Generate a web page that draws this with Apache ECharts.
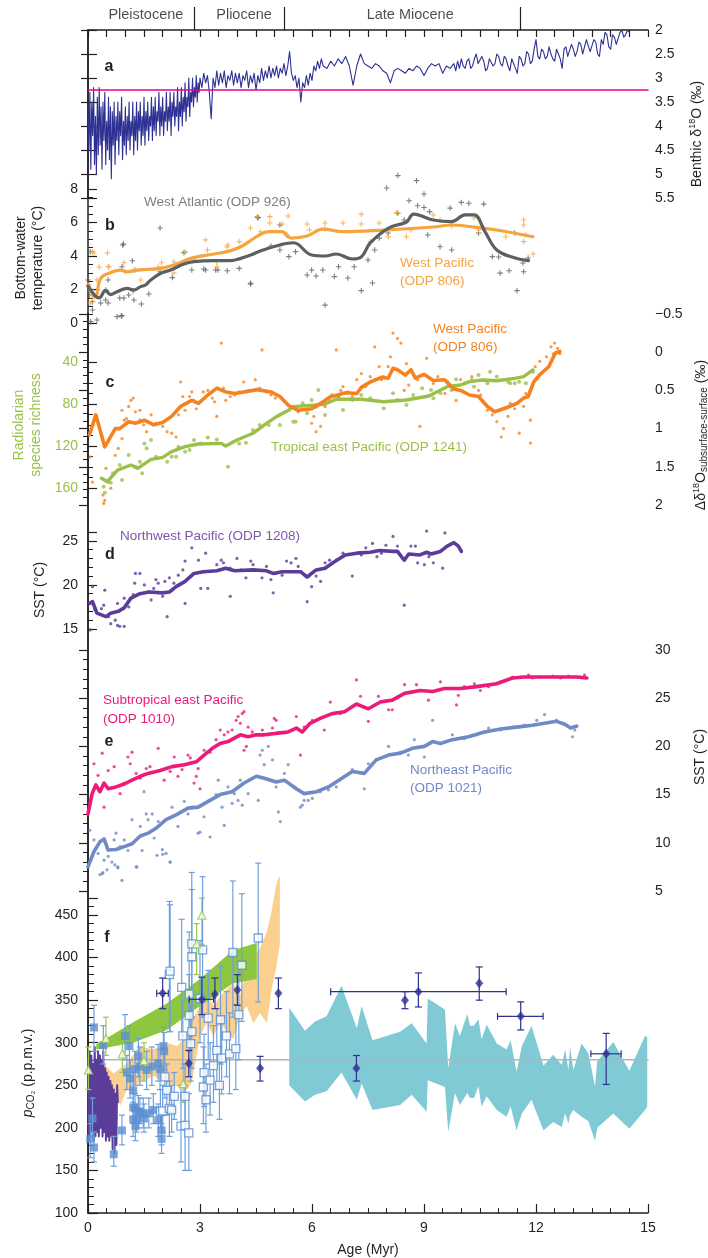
<!DOCTYPE html>
<html><head><meta charset="utf-8">
<script src="https://cdn.jsdelivr.net/npm/echarts@6.0.0/dist/echarts.min.js"></script>
<style>html,body{margin:0;padding:0;background:#fff}#c{width:708px;height:1258px}</style>
</head><body><div id="c"></div>
<script>
// ---------------- DATA ----------------
const EPOCH_NAMES = ['Pleistocene', 'Pliocene', 'Late Miocene'];
const EPOCH_LABEL_AGE = [1.55, 4.18, 8.63];
const EPOCH_BOUNDS = [2.84, 5.26, 11.57];

// panel a: benthic d18O (age Myr, permil)
const D18O = [[0.000,3.6],[0.025,4.5],[0.050,3.3],[0.075,4.9],[0.100,3.5],[0.125,4.2],[0.150,3.2],[0.175,4.8],[0.200,3.8],[0.225,5.0],[0.250,3.4],[0.275,4.6],[0.300,3.2],[0.325,4.4],[0.350,3.6],[0.375,4.9],[0.400,3.5],[0.425,4.3],[0.450,3.3],[0.475,4.8],[0.500,3.9],[0.525,4.5],[0.550,3.4],[0.575,4.7],[0.600,3.6],[0.625,5.1],[0.650,3.7],[0.675,4.4],[0.700,3.5],[0.725,4.8],[0.750,3.8],[0.775,4.3],[0.800,3.5],[0.825,4.6],[0.850,3.7],[0.875,4.2],[0.900,3.4],[0.925,4.7],[0.950,3.9],[0.975,4.4],[1.000,3.6],[1.025,4.6],[1.050,3.8],[1.075,4.3],[1.100,3.5],[1.125,4.5],[1.150,3.9],[1.175,4.2],[1.200,3.5],[1.225,4.6],[1.250,3.8],[1.275,4.3],[1.300,3.5],[1.325,4.5],[1.350,3.7],[1.375,4.1],[1.400,3.5],[1.425,4.4],[1.450,3.8],[1.475,4.2],[1.500,3.4],[1.525,4.4],[1.550,3.7],[1.575,4.1],[1.600,3.5],[1.625,4.3],[1.650,3.8],[1.675,4.0],[1.700,3.4],[1.725,4.3],[1.750,3.6],[1.775,4.1],[1.800,3.4],[1.825,4.2],[1.850,3.7],[1.875,3.9],[1.900,3.3],[1.925,4.2],[1.950,3.6],[1.975,4.0],[2.000,3.4],[2.025,4.2],[2.050,3.7],[2.075,3.9],[2.100,3.3],[2.125,4.1],[2.150,3.6],[2.175,3.9],[2.200,3.3],[2.225,4.2],[2.250,3.5],[2.275,3.8],[2.300,3.3],[2.325,4.0],[2.350,3.6],[2.375,3.8],[2.400,3.2],[2.425,4.1],[2.450,3.5],[2.475,3.8],[2.500,3.2],[2.525,4.0],[2.550,3.4],[2.575,3.7],[2.600,3.1],[2.625,3.9],[2.650,3.4],[2.675,3.6],[2.700,3.0],[2.725,3.8],[2.750,3.3],[2.775,3.5],[2.800,3.0],[2.825,3.6],[2.850,3.2],[2.875,3.4],[2.900,2.95],[2.925,3.5],[2.950,3.1],[2.975,3.3],[3.000,3.0],
[3.05,3.2],[3.10,2.9],[3.15,3.1],[3.20,2.95],[3.25,3.3],[3.30,3.85],[3.35,3.0],[3.40,3.2],[3.45,2.85],[3.50,3.15],[3.55,2.9],[3.60,3.1],[3.65,2.85],[3.70,3.2],[3.75,2.95],[3.80,3.05],[3.85,2.85],[3.90,3.15],[3.95,2.9],[4.00,3.1],[4.05,2.9],[4.10,3.2],[4.15,2.95],[4.20,3.05],[4.25,2.85],[4.30,3.2],[4.35,2.95],[4.40,3.1],[4.45,2.9],[4.50,3.25],[4.55,2.95],[4.60,3.1],[4.65,2.8],[4.70,3.05],[4.75,2.85],[4.80,3.0],[4.85,2.75],[4.90,3.0],[4.95,2.8],[5.00,2.95],[5.05,2.75],[5.10,3.0],[5.15,2.8],[5.20,2.9],[5.25,2.7],[5.30,2.95],[5.35,2.75],[5.40,2.45],[5.45,2.9],[5.50,3.05],[5.55,2.95],[5.60,3.2],[5.65,3.0],[5.70,3.5],[5.75,3.1],[5.80,3.2],[5.85,2.95],[5.90,3.15],[5.95,2.9],[6.00,3.05],[6.05,2.75],[6.10,2.85],[6.15,2.65],[6.20,2.8],[6.25,2.6],[6.30,2.75],
[6.4,2.8],[6.5,2.65],[6.6,2.75],[6.7,2.6],[6.8,2.7],[6.9,2.55],[7.0,2.75],[7.1,3.15],[7.2,2.75],[7.3,2.5],[7.4,2.7],[7.5,2.75],[7.6,2.8],[7.7,2.7],[7.8,2.75],[7.9,2.85],[8.0,2.9],[8.1,3.1],[8.2,2.85],[8.3,2.8],[8.4,2.85],[8.5,2.9],[8.6,2.8],[8.7,2.85],[8.8,2.75],[8.9,2.8],[9.0,2.95],[9.1,2.8],[9.2,2.7],[9.3,2.75],[9.4,2.7],[9.5,2.9],[9.6,2.75],[9.7,2.8],[9.8,2.7],
[9.85,2.85],[9.9,2.65],[9.95,2.8],[10.0,2.6],[10.05,2.75],[10.1,2.8],[10.15,2.65],[10.2,2.6],[10.25,2.8],[10.3,2.75],[10.35,2.6],[10.4,2.5],[10.45,2.7],[10.5,2.7],[10.55,2.55],[10.6,2.65],[10.65,2.85],[10.7,2.8],[10.75,2.6],[10.8,2.6],[10.85,2.75],[10.9,2.7],[10.95,2.5],[11.0,2.55],[11.05,2.7],[11.1,2.75],[11.15,2.55],[11.2,2.6],[11.25,2.75],[11.3,2.85],[11.35,2.6],[11.4,2.6],[11.45,2.8],[11.5,2.9],[11.55,2.55],[11.6,2.6],[11.65,2.75],[11.7,2.7],[11.75,2.45],[11.8,2.5],[11.85,2.7],[11.9,2.65],[11.95,2.4],[12.0,2.2],[12.05,2.55],[12.1,2.6],[12.15,2.4],[12.2,2.45],[12.25,2.6],[12.3,2.55],[12.35,2.35],[12.4,2.5],[12.45,2.6],[12.5,2.65],[12.55,2.4],[12.6,2.4],[12.65,2.6],[12.7,2.8],[12.75,2.4],[12.8,2.35],[12.85,2.55],[12.9,2.55],[12.95,2.3],[13.0,2.4],[13.05,2.55],[13.1,2.45],[13.15,2.25],[13.2,2.3],[13.25,2.5],[13.3,2.5],[13.35,2.2],[13.4,2.2],[13.45,2.45],[13.5,2.45],[13.55,2.2],[13.6,2.25],[13.65,2.5],[13.7,2.55],[13.75,2.2],[13.8,2.3],[13.85,2.05],[13.9,2.1],[13.95,2.35],[14.0,2.4],[14.05,2.1],[14.1,2.15],[14.15,2.3],[14.2,2.3],[14.25,2.05],[14.3,2.0],[14.35,2.15],[14.4,2.1],[14.45,2.0],[14.5,2.05]];
const D18O_REF = 3.25;

// panel b: bottom-water temperature
const ATL926_PTS = [[8.3,8.8],[8.8,8.5],[8.0,8.06],[9.0,7.7],[10.0,7.2],[9.0,6.9],[8.6,7.3],[8.83,7.0],[10.2,7.15],[10.6,7.1],[9.7,6.86],[9.15,6.65],[8.3,6.55],[1.93,5.67],[4.56,6.29],[5.14,5.85],[5.32,5.25],[0.93,4.66],[0.06,4.26],[1.19,3.72],[0.91,3.36],[0.54,2.57],[0.85,1.49],[1.09,1.67],[1.21,1.93],[1.43,1.13],[1.93,3.06],[2.78,3.16],[3.15,3.16],[3.48,3.16],[4.35,2.37],[4.9,4.6],[5.14,4.36],[5.38,3.96],[5.56,4.26],[5.87,2.87],[5.99,3.16],[6.11,2.81],[6.29,3.16],[6.35,1.07],[6.6,2.77],[6.71,3.36],[6.96,2.69],[7.13,3.36],[7.32,1.93],[7.62,2.39],[7.5,3.76],[7.68,4.36],[7.8,5.07],[8.04,5.37],[8.47,6.15],[9.1,5.25],[9.43,4.55],[9.74,4.36],[10.46,5.37],[10.83,3.96],[11.0,3.94],[11.04,2.98],[11.28,3.12],[11.49,1.93],[11.67,3.06],[11.43,5.37],[11.65,3.58],[11.79,3.88],[0.12,0.78],[0.24,0.18],[0.78,0.38],[0.91,0.44],[0.12,1.27],[0.04,1.67],[0.54,1.19],[0.48,1.97],[0.0,2.57],[0.25,1.97],[0.34,1.19],[0.07,0.08],[0.89,0.42],[0.47,1.37],[0.96,1.49],[1.23,1.37],[1.63,1.73],[0.95,4.72],[2.26,2.71],[2.57,4.2],[3.1,3.22],[3.42,3.16],[3.73,3.12],[4.05,3.26],[4.36,2.33],[4.54,6.31]];
const ATL926_FIT = [[0,2.2],[0.2,1.6],[0.3,1.5],[0.47,1.95],[0.6,1.7],[0.78,1.87],[1.05,2.07],[1.23,1.97],[1.41,2.17],[1.54,2.27],[1.68,2.57],[1.95,2.97],[2.21,3.16],[2.57,3.52],[2.84,3.66],[3.38,3.72],[3.82,3.72],[4.09,3.86],[4.36,4.06],[4.63,4.32],[5.14,4.66],[5.5,4.79],[5.99,4.06],[6.35,4.0],[6.65,4.12],[7.08,3.82],[7.32,3.94],[7.56,4.78],[8.05,5.67],[8.53,6.03],[8.72,6.5],[9.25,6.15],[9.74,6.05],[10.1,6.45],[10.34,6.45],[10.64,5.43],[10.95,4.36],[11.44,3.88],[11.8,3.72]];
const PAC806_PTS = [[0.52,4.18],[0.12,4.26],[0.24,2.57],[0.12,1.49],[0.06,1.19],[0.54,3.36],[1.27,3.16],[1.88,3.34],[2.3,2.98],[2.6,4.26],[3.15,4.96],[3.2,4.36],[3.75,4.66],[4.05,4.86],[4.35,5.67],[4.53,6.35],[4.87,6.35],[4.87,5.97],[5.36,6.39],[5.2,5.91],[5.87,5.91],[5.93,5.55],[6.35,5.97],[6.35,5.61],[6.83,5.97],[7.32,6.5],[7.32,5.91],[7.56,4.86],[7.8,5.97],[8.26,6.59],[8.04,5.15],[8.53,5.15],[8.65,5.55],[9.25,6.45],[9.43,6.15],[9.74,5.79],[10.34,6.27],[10.46,5.55],[11.19,5.15],[11.67,6.15],[11.67,5.85],[11.73,5.25],[11.92,4.12],[11.67,4.86],[0.16,4.18],[0.3,3.34],[0.56,3.36],[0.96,3.6],[1.0,3.06],[1.23,3.16],[1.41,2.57],[1.97,3.6],[1.95,3.22],[0.03,2.27],[0.07,1.97],[0.16,1.57],[2.3,3.66],[2.84,3.76],[3.45,3.66],[3.45,3.36],[3.72,4.54],[4.62,5.45]];
const PAC806_FIT = [[0,2.3],[0.2,1.6],[0.34,2.67],[0.6,3.0],[0.87,3.16],[1.05,3.06],[1.32,3.16],[1.59,3.2],[1.95,3.26],[2.3,3.46],[2.75,3.86],[3.2,4.06],[3.73,4.26],[4.09,4.55],[4.45,5.06],[4.71,5.39],[4.9,5.45],[5.2,5.45],[5.44,5.07],[5.87,5.19],[6.29,5.61],[6.83,5.45],[7.92,5.55],[9.25,5.73],[9.74,5.85],[10.34,5.73],[10.95,5.55],[11.92,5.15]];

// panel c: subsurface-surface d18O (ODP 806) and radiolarian richness (ODP 1241)
const DD18O_PTS = [[0.06,1.37],[0.12,1.70],[0.42,1.98],[0.45,1.94],[0.40,1.87],[0.55,1.70],[0.61,1.78],[0.48,1.52],[0.73,1.35],[0.81,1.26],[0.91,1.13],[0.97,0.89],[0.91,0.76],[1.03,0.87],[1.09,0.71],[1.15,0.63],[1.21,0.60],[1.27,0.78],[1.39,0.76],[1.39,0.89],[1.49,0.95],[1.57,1.04],[1.69,0.82],[1.82,0.93],[2.00,0.97],[2.12,1.04],[2.24,1.06],[2.36,1.11],[2.48,0.39],[2.42,0.82],[2.54,0.58],[2.60,0.76],[2.72,0.58],[2.78,0.52],[2.84,0.63],[2.90,0.74],[3.09,0.52],[3.21,0.50],[3.33,0.60],[3.39,0.65],[3.57,-0.12],[3.45,0.84],[3.63,0.47],[3.69,0.63],[3.81,0.58],[3.93,0.56],[4.05,0.52],[4.17,0.39],[4.30,0.50],[4.48,0.36],[4.60,0.47],[4.66,-0.03],[4.78,0.52],[4.90,0.56],[5.02,0.60],[5.14,0.82],[5.38,0.76],[5.63,0.78],[5.87,0.76],[5.99,0.93],[6.05,0.84],[6.11,1.04],[6.23,0.97],[6.35,0.71],[6.47,0.63],[6.65,-0.03],[6.71,0.58],[6.77,0.50],[6.83,0.45],[6.96,0.52],[7.08,0.58],[7.20,0.36],[7.32,0.28],[7.44,0.45],[7.56,0.32],[7.68,-0.07],[7.80,0.19],[7.86,0.36],[7.92,0.32],[8.04,0.19],[8.10,0.06],[8.17,-0.25],[8.29,-0.18],[8.38,-0.12],[8.47,0.50],[8.53,0.15],[8.59,0.43],[8.71,0.28],[8.83,0.36],[8.89,0.97],[9.07,0.08],[9.25,0.41],[9.37,0.32],[9.56,0.54],[9.74,0.45],[9.86,0.63],[9.98,0.36],[10.10,0.41],[10.28,0.32],[10.46,0.50],[10.52,0.56],[10.70,0.76],[10.83,0.82],[10.95,0.91],[11.07,1.11],[11.13,1.00],[11.25,0.84],[11.31,0.67],[11.43,0.74],[11.55,1.06],[11.67,0.71],[11.73,0.54],[11.85,0.89],[11.85,1.19],[11.98,0.19],[12.10,0.12],[12.28,0.06],[12.40,-0.07],[12.50,-0.12],[12.58,-0.05],[12.64,0.02],[12.46,0.02]];
const DD18O_FIT = [[0.04,1.08],[0.21,0.82],[0.45,1.24],[0.73,1.0],[0.85,1.0],[1.09,0.91],[1.27,0.93],[1.51,0.89],[1.76,0.95],[2.0,0.92],[2.24,0.84],[2.48,0.71],[2.78,0.63],[2.96,0.67],[3.21,0.56],[3.45,0.47],[3.69,0.52],[3.93,0.54],[4.17,0.52],[4.54,0.49],[4.9,0.52],[5.14,0.58],[5.38,0.7],[5.63,0.76],[5.99,0.74],[6.23,0.67],[6.47,0.59],[6.9,0.53],[7.2,0.54],[7.32,0.46],[7.56,0.39],[7.86,0.33],[8.04,0.34],[8.17,0.21],[8.29,0.23],[8.5,0.3],[8.65,0.23],[8.77,0.34],[9.0,0.29],[9.25,0.37],[9.55,0.36],[9.8,0.48],[9.98,0.5],[10.22,0.56],[10.46,0.58],[10.7,0.71],[10.89,0.78],[11.19,0.73],[11.49,0.67],[11.67,0.6],[11.79,0.58],[11.94,0.39],[12.09,0.3],[12.34,0.19],[12.52,0.01],[12.64,-0.01]];
const RAD1241_PTS = [[0.42,158.7],[0.45,164.5],[0.61,154.9],[0.67,146.0],[0.85,138.1],[0.91,152.4],[1.09,128.6],[1.27,139.7],[1.39,134.9],[1.45,146.0],[1.51,117.5],[1.57,122.2],[1.69,114.3],[1.82,130.2],[2.12,134.9],[2.24,130.2],[2.36,130.2],[2.42,120.6],[2.60,125.4],[2.72,123.8],[2.84,114.3],[3.02,117.5],[3.21,111.8],[3.45,113.7],[3.75,139.7],[4.05,117.5],[4.23,116.8],[4.42,104.8],[4.60,100.0],[4.84,100.0],[5.14,100.0],[5.50,96.8],[5.56,96.8],[5.75,79.4],[5.87,88.9],[5.99,76.2],[6.11,82.5],[6.17,66.7],[6.35,90.5],[6.53,71.4],[6.71,73.0],[6.83,85.7],[7.08,76.2],[7.32,71.4],[7.56,74.6],[7.92,84.1],[8.17,69.8],[8.29,76.2],[8.53,80.9],[8.71,71.4],[8.95,65.1],[9.25,74.6],[9.44,69.8],[9.62,58.7],[9.86,56.5],[10.10,60.3],[10.28,57.1],[10.46,52.4],[10.77,49.2],[10.95,54.0],[11.25,58.7],[11.31,60.3],[11.43,60.3],[11.55,58.7],[11.73,60.3],[11.92,49.2],[9.74,66.7],[10.34,63.5],[10.70,60.3],[9.19,66.7]];
const RAD1241_FIT = [[0.36,150.8],[0.52,154.0],[0.79,142.9],[1.15,138.1],[1.33,141.3],[1.69,132.7],[2.0,130.8],[2.24,125.4],[2.6,120.6],[2.96,118.1],[3.57,117.5],[3.69,120.0],[3.99,114.3],[4.42,107.9],[4.78,98.4],[5.02,92.7],[5.38,85.7],[5.5,82.5],[6.11,80.9],[6.35,80.0],[6.65,75.5],[7.32,75.5],[7.92,77.8],[8.53,76.2],[9.13,72.4],[9.62,63.5],[9.98,61.9],[10.22,58.7],[10.58,57.1],[10.95,57.8],[11.43,55.6],[11.67,54.0],[11.92,47.6]];

// panel d: SST ODP 1208
const SST1208_PTS = [[0.06,14.9],[0.12,19.8],[0.18,17.2],[0.36,17.3],[0.42,17.7],[0.45,19.4],[0.55,16.4],[0.61,15.6],[0.73,16.0],[0.79,15.4],[0.85,15.3],[0.97,15.3],[0.79,17.9],[0.97,18.5],[1.09,17.5],[1.21,18.9],[1.25,20.2],[1.27,21.3],[1.39,21.3],[1.51,20.0],[1.63,19.2],[1.69,18.3],[1.76,19.6],[1.82,20.6],[1.88,20.2],[2.00,18.7],[2.06,20.4],[2.18,20.8],[2.12,16.4],[2.24,19.4],[2.30,20.2],[2.42,21.1],[2.54,21.7],[2.60,22.7],[2.60,17.9],[2.78,24.2],[2.96,22.8],[3.02,19.6],[3.15,23.6],[3.21,19.6],[3.45,22.3],[3.57,22.8],[3.63,22.5],[3.81,21.9],[3.81,18.7],[3.99,23.0],[4.11,21.7],[4.23,20.8],[4.36,22.7],[4.42,22.3],[4.66,20.8],[4.78,22.1],[4.90,20.6],[4.96,19.1],[5.02,21.3],[5.20,21.1],[5.32,22.7],[5.44,22.5],[5.57,23.0],[5.63,22.1],[5.87,18.1],[5.99,19.8],[6.11,21.0],[6.23,20.4],[6.35,22.5],[6.47,22.8],[6.65,22.8],[6.83,23.6],[7.08,21.0],[7.32,23.4],[7.44,24.2],[7.62,24.7],[7.74,23.2],[7.86,23.6],[7.98,24.5],[8.17,25.5],[8.29,24.4],[8.47,17.7],[8.65,24.4],[8.77,24.4],[8.83,22.5],[9.01,22.3],[9.07,26.1],[9.25,22.5],[9.50,21.9],[9.56,25.9],[9.13,23.2]];
const SST1208_FIT = [[0.04,17.9],[0.12,18.1],[0.24,16.8],[0.48,16.4],[0.61,16.8],[0.81,17.0],[0.97,17.4],[1.15,18.5],[1.39,19.0],[1.63,19.2],[2.0,19.1],[2.18,19.2],[2.36,19.8],[2.60,20.4],[2.84,21.3],[3.09,21.5],[3.45,21.6],[3.69,21.9],[3.93,21.6],[4.42,21.7],[4.78,21.6],[4.96,21.3],[5.20,21.5],[5.50,21.5],[5.69,21.5],[5.87,20.9],[6.11,21.7],[6.35,21.9],[6.59,22.6],[6.89,23.4],[7.20,23.6],[7.56,23.7],[7.80,23.9],[8.17,23.8],[8.29,23.8],[8.47,22.8],[8.59,23.5],[8.89,23.4],[9.07,23.7],[9.19,23.5],[9.44,23.8],[9.62,24.4],[9.80,24.8],[9.92,24.4],[10.00,23.8]];

// panel e: SST ODP 1010 and ODP 1021
const SST1010_PTS = [[0.16,18.2],[0.27,17.0],[0.38,19.3],[0.43,13.7],[0.54,17.5],[0.70,17.9],[0.86,15.1],[0.97,16.2],[1.07,18.9],[1.13,18.2],[1.18,19.4],[1.29,17.2],[1.40,16.7],[1.56,17.7],[1.66,17.9],[1.88,19.8],[2.04,16.5],[2.20,17.4],[2.31,18.9],[2.41,16.9],[2.52,17.6],[2.68,19.1],[2.74,18.8],[2.84,16.2],[2.90,16.9],[2.95,17.7],[3.00,15.6],[3.11,19.6],[3.27,19.4],[3.43,20.7],[3.54,21.7],[3.65,21.2],[3.75,21.5],[3.86,21.7],[3.97,22.7],[4.02,23.1],[4.08,22.4],[4.13,23.4],[4.18,23.6],[4.24,20.0],[4.18,19.6],[4.29,22.0],[4.40,21.5],[4.61,21.2],[4.67,21.7],[4.83,21.2],[4.94,21.9],[4.99,22.9],[5.04,22.7],[5.26,21.4],[5.58,23.1],[5.69,19.1],[5.79,22.0],[6.01,22.7],[6.33,21.7],[6.49,24.6],[6.76,23.4],[7.19,26.9],[7.30,25.2],[7.51,22.6],[7.78,25.2],[8.05,23.8],[8.15,23.8],[8.48,26.4],[8.80,26.4],[9.12,24.8],[9.44,26.7],[9.76,26.0],[9.87,24.3],[9.92,25.3],[10.08,26.2],[10.35,26.5],[10.73,26.2],[11.37,27.2],[11.80,27.4],[11.91,27.1],[12.12,27.2],[12.45,27.3],[12.87,27.3],[13.20,27.2],[10.51,25.8],[11.05,26.7],[11.59,27.2],[12.66,27.1],[13.30,27.4]];
const SST1010_FIT = [[0.0,13.0],[0.11,15.1],[0.21,16.0],[0.32,15.3],[0.43,16.2],[0.54,15.6],[0.75,15.8],[0.97,16.1],[1.18,16.5],[1.40,16.9],[1.61,17.2],[1.93,17.5],[2.25,17.9],[2.58,18.1],[2.90,18.4],[3.11,19.1],[3.33,19.8],[3.54,20.3],[3.75,20.5],[4.08,21.2],[4.29,21.0],[4.51,21.2],[4.72,21.2],[5.15,21.4],[5.36,21.5],[5.58,21.9],[5.74,21.5],[5.95,22.4],[6.22,22.9],[6.54,23.4],[6.87,23.6],[7.19,24.4],[7.51,23.9],[7.83,24.6],[8.15,24.8],[8.48,25.5],[8.90,25.8],[9.23,25.7],[9.55,26.0],[9.98,26.0],[10.41,26.2],[10.94,26.5],[11.37,27.1],[11.69,27.2],[12.12,27.2],[12.66,27.2],[13.09,27.2],[13.36,27.1]];
const SST1021_PTS = [[0.05,11.3],[0.16,10.3],[0.27,8.9],[0.38,6.8],[0.43,8.2],[0.54,8.6],[0.64,8.0],[0.70,10.3],[0.75,11.0],[0.80,7.5],[0.86,9.6],[0.97,10.3],[1.07,9.2],[1.18,12.4],[1.29,7.5],[1.40,11.7],[1.45,9.2],[1.50,15.3],[1.56,13.0],[1.61,12.4],[1.72,13.0],[1.77,10.5],[1.88,12.2],[1.99,9.3],[2.09,8.9],[2.20,8.0],[2.25,13.7],[2.41,11.7],[2.58,14.3],[2.68,13.0],[2.79,13.7],[2.95,11.0],[3.00,11.1],[3.11,12.7],[3.22,14.3],[3.27,10.6],[3.43,15.0],[3.49,16.5],[3.59,13.7],[3.65,11.8],[3.75,15.8],[3.86,14.1],[3.92,15.1],[4.02,14.4],[4.08,16.5],[4.13,13.9],[4.29,15.1],[4.56,14.4],[4.61,19.1],[4.67,19.6],[4.72,18.1],[4.83,20.0],[4.94,18.6],[5.04,15.8],[5.10,13.2],[5.15,12.2],[5.26,17.2],[5.36,18.1],[5.69,13.7],[5.74,13.9],[5.79,14.4],[5.90,14.4],[6.01,14.6],[6.22,15.3],[6.44,15.5],[6.65,15.8],[6.87,16.9],[7.08,17.6],[7.40,15.6],[7.51,18.2],[7.72,18.6],[8.05,20.0],[8.37,19.4],[8.58,19.1],[8.74,20.7],[9.01,18.9],[9.23,22.7],[9.44,20.3],[9.76,21.2],[10.08,20.8],[10.41,21.2],[10.73,21.9],[11.05,21.7],[11.37,22.0],[11.69,22.2],[12.02,22.7],[12.23,23.3],[12.55,22.7],[12.98,21.0],[13.04,21.7],[0.32,6.7],[0.40,6.9],[0.51,7.2],[0.72,7.7],[0.80,7.4],[0.91,6.1],[1.31,7.5],[2.0,8.8],[2.2,8.0],[1.85,8.7]];
const SST1021_FIT = [[0.0,7.5],[0.16,9.1],[0.32,10.1],[0.43,10.4],[0.54,9.25],[0.75,9.3],[0.97,9.6],[1.18,9.9],[1.40,10.7],[1.61,11.0],[1.82,11.5],[2.09,12.4],[2.36,12.9],[2.68,13.6],[2.95,13.7],[3.22,14.3],[3.54,15.0],[3.86,15.3],[4.18,16.2],[4.51,16.9],[4.72,16.7],[5.04,16.3],[5.26,16.5],[5.58,15.6],[5.79,15.1],[6.12,15.3],[6.44,15.8],[6.76,16.6],[7.08,17.4],[7.40,17.2],[7.72,18.6],[8.05,19.1],[8.37,19.3],[8.69,19.8],[9.01,20.0],[9.23,20.5],[9.44,20.3],[9.76,20.7],[10.19,21.0],[10.62,21.5],[11.05,21.8],[11.48,22.0],[11.91,22.2],[12.23,22.4],[12.55,22.6],[12.77,22.3],[12.93,21.9],[13.09,22.1]];

// panel f: pCO2 (ppmv). bands: [age, low, high]; points: [age, value, low, high(, xlow, xhigh)]
const CO2_PREINDUSTRIAL = 280;
const CO2_TEAL_BAND = [[5.39,250,341],[5.81,231,314],[6.08,239,325],[6.39,243,331],[6.79,265,367],[7.20,233,317],[7.33,252,343],[7.62,221,303],[8.36,227,313],[8.67,239,323],[9.07,219,299],[9.10,256,352],[9.56,248,339],[9.65,195,270],[9.83,241,323],[9.96,227,308],[10.16,241,334],[10.23,235,320],[10.34,235,320],[10.46,249,328],[10.54,225,304],[10.68,237,321],[10.95,221,299],[11.21,213,292],[11.32,225,303],[11.48,197,266],[11.62,217,296],[11.88,233,320],[12.20,197,273],[12.46,207,286],[12.69,201,274],[12.78,217,292],[12.87,205,268],[12.91,215,296],[13.00,221,268],[13.22,213,299],[13.40,208,288],[13.58,185,249],[13.64,200,278],[14.07,217,301],[14.50,199,267],[14.92,221,308],[14.98,225,307]];
const CO2_ORANGE_BAND = [[0.41,253,276],[0.68,245,264],[0.86,226,270],[1.04,245,276],[1.39,253,296],[1.75,261,292],[2.11,253,300],[2.38,249,296],[2.64,245,308],[2.78,253,325],[2.87,276,333],[3.0,308,343],[3.18,323,359],[3.36,308,343],[3.54,323,355],[3.89,304,370],[4.07,331,355],[4.25,343,386],[4.43,323,398],[4.61,335,412],[4.79,323,430],[4.92,363,455],[5.05,390,488],[5.14,417,496]];
const CO2_GREEN_BAND = [[0.22,292,298],[1.21,300,324],[2.11,315,346],[3.0,343,375],[3.89,370,409],[4.52,375,417]];
const CO2_ICE = [[0,280],[0.02,185],[0.04,290],[0.06,190],[0.09,285],[0.11,195],[0.13,275],[0.15,185],[0.18,295],[0.20,190],[0.22,280],[0.25,195],[0.27,290],[0.29,190],[0.32,285],[0.34,200],[0.36,280],[0.39,190],[0.41,290],[0.43,195],[0.46,270],[0.48,185],[0.50,265],[0.52,190],[0.55,260],[0.57,185],[0.60,255],[0.62,190],[0.64,250],[0.66,175],[0.69,245],[0.71,170],[0.73,240],[0.76,180],[0.78,250],[0.80,230]];
const CO2_BLUE_FILLED = [[0.16,318,290,344],[0.12,211,190,235],[0.06,187,165,205],[0.16,177,160,195],[0.41,297,275,320],[0.69,169,155,190],[0.91,197,180,215],[0.99,308,280,333],[1.04,265,245,285],[1.11,296,270,320],[1.13,258,235,280],[1.21,244,225,265],[1.21,224,205,245],[1.21,210,190,230],[1.26,269,250,290],[1.26,223,205,240],[1.27,202,185,220],[1.30,210,195,228],[1.35,284,260,305],[1.35,219,200,238],[1.39,272,250,295],[1.39,219,205,235],[1.48,217,200,235],[1.50,211,195,228],[1.57,268,245,290],[1.63,217,200,235],[1.71,272,250,295],[1.75,221,205,240],[1.88,276,255,298],[1.88,209,190,228],[1.93,269,245,292],[1.97,197,180,215],[1.97,187,170,205],[2.02,296,275,318],[2.04,290,268,312]];
const CO2_BLUE_OPEN = [[1.94,219,200,245],[2.0,220,195,250],[2.06,260,235,290],[2.11,244,215,275],[2.18,380,313,466],[2.20,384,313,462],[2.18,223,190,255],[2.24,221,195,250],[2.31,237,210,265],[2.49,202,160,250],[2.51,365,308,445],[2.54,308,270,350],[2.60,237,205,275],[2.60,203,150,250],[2.70,194,150,240],[2.71,357,300,430],[2.71,332,290,380],[2.75,299,255,345],[2.78,416,330,500],[2.78,401,330,480],[2.78,313,270,360],[3.00,352,300,420],[3.07,409,330,495],[3.09,248,205,295],[3.11,265,225,310],[3.16,233,195,275],[3.22,329,280,385],[3.27,256,215,300],[3.36,273,230,320],[3.45,291,245,340],[3.52,250,210,295],[3.55,327,275,390],[3.58,282,240,330],[3.71,308,260,360],[3.79,287,240,335],[3.88,406,330,490],[3.96,293,245,345],[4.04,333,280,395],[4.12,391,325,475],[4.56,423,348,511]];
const CO2_GREEN_TRI = [[0.01,268,245,295],[0.48,305,285,330],[0.92,287,265,310],[1.50,279,255,300],[2.55,252,230,275],[2.91,416,380,440],[3.05,450,415,470]];
const CO2_NAVY = [[2.00,358,340,376,1.84,2.15],[2.70,276,260,291,2.70,2.70],[3.05,351,333,377,2.71,3.36],[3.40,357,340,376,3.40,3.40],[4.00,362,344,380,4.00,4.00],[4.61,270,255,284,4.61,4.61],[5.10,358,340,376,5.10,5.10],[7.19,270,255,285,7.19,7.19],[8.49,350,340,360,8.49,8.49],[8.85,360,342,382,6.50,11.20],[10.48,370,350,389,10.48,10.48],[11.59,331,315,348,10.97,12.19],[13.88,287,251,311,13.47,14.28]];

// ---------------- CHART ----------------
const FONT = '"Liberation Sans", Arial, Helvetica, sans-serif';
const INK = '#231f20';
const C = {navy:'#2e3192', pink:'#ec008c', gray:'#5a6064', grayTxt:'#7b8083', orB:'#f6a43e', orC:'#f5821f', green:'#9cbf4b', purple:'#5b3d99', purpleTxt:'#7d57ab', magenta:'#ec1b7a', blue:'#6f8ac6', teal:'#80cad6', orBand:'#fbd08f', grBand:'#8dc63f', sq:'#5b90d2', err:'#6fa0da', tri:'#9cc84b'};
const L = 88, R = 60;
const lab = (extra) => Object.assign({color: INK, fontSize: 14, fontFamily: FONT}, extra || {});
const tick = (len) => ({show: true, inside: true, length: len, lineStyle: {color: INK, width: 1.2}});
const minor = (n, len) => ({show: true, splitNumber: n, length: len, lineStyle: {color: INK, width: 1}});
const noLine = {show: false};
function hx(g) { return {type: 'value', gridIndex: g, min: 0, max: 15, show: false}; }

function pts(data, xi, yi, color, size, symbol, z, extra) {
  return Object.assign({type: 'scatter', xAxisIndex: xi, yAxisIndex: yi, data: data, symbol: symbol || 'circle', symbolSize: size, itemStyle: {color: color}, clip: false, silent: true, z: z || 2}, extra || {});
}
function ln(data, xi, yi, color, width, smooth, z) {
  return {type: 'line', xAxisIndex: xi, yAxisIndex: yi, data: data, showSymbol: false, symbol: 'none', smooth: smooth || false, lineStyle: {color: color, width: width, cap: 'round', join: 'round'}, clip: false, silent: true, z: z || 3};
}
function band(rows, color, z) {
  return {type: 'custom', xAxisIndex: 7, yAxisIndex: 8, data: rows, clip: false, silent: true, z: z, encode: {x: 0, y: 1},
    renderItem: function (params, api) {
      if (params.dataIndex !== 0) return;
      const up = rows.map(r => api.coord([r[0], r[2]]));
      const dn = rows.slice().reverse().map(r => api.coord([r[0], r[1]]));
      return {type: 'polygon', shape: {points: up.concat(dn)}, style: {fill: color}};
    }};
}
function errBars(rows, color, cap, z) {
  return {type: 'custom', xAxisIndex: 7, yAxisIndex: 8, data: rows, clip: false, silent: true, z: z, encode: {x: 0, y: 1},
    renderItem: function (params, api) {
      const row = rows[params.dataIndex];
      const a = api.coord([row[0], row[2]]), b = api.coord([row[0], row[3]]);
      const st = {stroke: color, lineWidth: 1.2};
      const ch = [
        {type: 'line', shape: {x1: a[0], y1: a[1], x2: b[0], y2: b[1]}, style: st},
        {type: 'line', shape: {x1: a[0] - cap, y1: a[1], x2: a[0] + cap, y2: a[1]}, style: st},
        {type: 'line', shape: {x1: b[0] - cap, y1: b[1], x2: b[0] + cap, y2: b[1]}, style: st}
      ];
      if (row.length > 5 && row[4] !== row[5]) {
        const c = api.coord([row[4], row[1]]), d = api.coord([row[5], row[1]]);
        ch.push({type: 'line', shape: {x1: c[0], y1: c[1], x2: d[0], y2: d[1]}, style: st});
        ch.push({type: 'line', shape: {x1: c[0], y1: c[1] - cap, x2: c[0], y2: c[1] + cap}, style: st});
        ch.push({type: 'line', shape: {x1: d[0], y1: d[1] - cap, x2: d[0], y2: d[1] + cap}, style: st});
      }
      return {type: 'group', children: ch};
    }};
}
const PLUS = 'path://M4,0H6V4H10V6H6V10H4V6H0V4H4Z';
const xy = rows => rows.map(r => [r[0], r[1]]);

const option = {
  animation: false,
  backgroundColor: '#fff',
  grid: [
    {left: L, right: R, top: 7, height: 23},
    {left: L, right: R, top: 30, height: 168},
    {left: L, right: R, top: 189, height: 134},
    {left: L, right: R, top: 314, height: 191},
    {left: L, right: R, top: 362, height: 126},
    {left: L, right: R, top: 532, height: 97},
    {left: L, right: R, top: 650, height: 241},
    {left: L, right: R, top: 898, height: 315},
    {left: L, right: R, top: 30, height: 1183},
    {left: L, right: R, top: 313, height: 900}
  ],
  xAxis: [
    hx(0),
    {type: 'value', gridIndex: 1, min: 0, max: 15, interval: 0.5, position: 'top',
      axisLine: {show: true, lineStyle: {color: INK, width: 1.5}}, axisTick: tick(7), axisLabel: {show: false}, splitLine: {show: false}},
    hx(2), hx(3), hx(4), hx(5), hx(6),
    {type: 'value', gridIndex: 7, min: 0, max: 15, interval: 3, position: 'bottom',
      axisLine: {show: true, lineStyle: {color: INK, width: 1.5}}, axisTick: tick(9), minorTick: minor(6, 5),
      axisLabel: lab({margin: 8}), splitLine: {show: false},
      name: 'Age (Myr)', nameLocation: 'middle', nameGap: 30, nameTextStyle: lab()},
    hx(8), hx(9)
  ],
  yAxis: [
    {type: 'value', gridIndex: 0, min: 0, max: 1, show: false},
    {type: 'value', gridIndex: 1, position: 'right', min: 2, max: 5.5, interval: 0.5, inverse: true,
      axisLine: {show: true, lineStyle: {color: INK, width: 1.5}}, axisTick: tick(7), axisLabel: lab({margin: 7}), splitLine: {show: false}},
    {type: 'value', gridIndex: 1, position: 'left', min: 2, max: 5.5, interval: 0.5, inverse: true,
      axisLine: noLine, axisTick: tick(9), axisLabel: {show: false}, splitLine: {show: false}},
    {type: 'value', gridIndex: 2, position: 'left', min: 0, max: 8, interval: 2,
      axisLine: noLine, axisTick: tick(9), minorTick: minor(4, 5), axisLabel: lab({margin: 10}), splitLine: {show: false}},
    {type: 'value', gridIndex: 3, position: 'right', min: -0.5, max: 2, interval: 0.5, inverse: true,
      axisLine: noLine, axisTick: tick(9), minorTick: minor(5, 5), splitLine: {show: false},
      axisLabel: lab({margin: 7, formatter: v => String(v).replace('-', '\u2212')})},
    {type: 'value', gridIndex: 4, position: 'left', min: 40, max: 160, interval: 40, inverse: true,
      axisLine: noLine, axisTick: tick(9), minorTick: minor(4, 5), splitLine: {show: false},
      axisLabel: lab({margin: 10, color: C.green})},
    {type: 'value', gridIndex: 5, position: 'left', min: 15, max: 26, interval: 5,
      axisLine: noLine, axisTick: tick(9), minorTick: minor(5, 5), splitLine: {show: false},
      axisLabel: lab({margin: 10, formatter: v => (v % 5 === 0 ? String(v) : '')})},
    {type: 'value', gridIndex: 6, position: 'right', min: 5, max: 30, interval: 5,
      axisLine: noLine, axisTick: tick(9), minorTick: minor(5, 5), splitLine: {show: false}, axisLabel: lab({margin: 7})},
    {type: 'value', gridIndex: 7, position: 'left', min: 100, max: 470, interval: 50,
      axisLine: noLine, axisTick: tick(10), minorTick: minor(5, 6), splitLine: {show: false},
      axisLabel: lab({margin: 10, formatter: v => (v % 50 === 0 ? String(v) : '')})},
    {type: 'value', gridIndex: 8, position: 'left', min: 0, max: 1, axisLine: {show: true, lineStyle: {color: INK, width: 1.5}}, axisTick: {show: false}, axisLabel: {show: false}, splitLine: {show: false}},
    {type: 'value', gridIndex: 9, position: 'right', min: 0, max: 1, axisLine: {show: true, lineStyle: {color: INK, width: 1.5}}, axisTick: {show: false}, axisLabel: {show: false}, splitLine: {show: false}}
  ],
  series: [
    {type: 'scatter', xAxisIndex: 0, yAxisIndex: 0, silent: true, symbolSize: 1, itemStyle: {color: 'rgba(0,0,0,0)'},
      data: EPOCH_NAMES.map((n, i) => ({name: n, value: [EPOCH_LABEL_AGE[i], 0.65]})),
      label: {show: true, position: 'inside', formatter: '{b}', color: INK, fontSize: 14.5, fontFamily: FONT},
      markLine: {silent: true, symbol: 'none', animation: false, label: {show: false}, lineStyle: {color: INK, width: 1.2, type: 'solid'},
        data: EPOCH_BOUNDS.map(b => ({xAxis: b}))}},
    ln(D18O, 1, 1, C.navy, 1.1, false, 3),
    ln([[0, D18O_REF], [15, D18O_REF]], 1, 1, C.pink, 1.6, false, 4),
    pts(ATL926_PTS, 2, 3, C.gray, 5.5, PLUS, 2),
    pts(PAC806_PTS, 2, 3, C.orB, 5.5, PLUS, 2),
    ln(PAC806_FIT, 2, 3, C.orB, 3.2, 0.4, 3),
    ln(ATL926_FIT, 2, 3, C.gray, 3.2, 0.4, 4),
    pts(DD18O_PTS, 3, 4, C.orC, 3.2, 'circle', 2),
    pts(RAD1241_PTS, 4, 5, C.green, 4, 'circle', 2),
    ln(RAD1241_FIT, 4, 5, C.green, 3.4, false, 3),
    ln(DD18O_FIT, 3, 4, C.orC, 3.6, false, 4),
    pts(SST1208_PTS, 5, 6, C.purple, 3.2, 'circle', 2),
    ln(SST1208_FIT, 5, 6, C.purple, 3.6, false, 3),
    pts(SST1010_PTS, 6, 7, C.magenta, 3.2, 'circle', 2),
    pts(SST1021_PTS, 6, 7, C.blue, 3.2, 'circle', 2),
    ln(SST1010_FIT, 6, 7, C.magenta, 3.6, false, 3),
    ln(SST1021_FIT, 6, 7, C.blue, 3.6, false, 3),
    band(CO2_TEAL_BAND, C.teal, 1),
    band(CO2_ORANGE_BAND, C.orBand, 1),
    band(CO2_GREEN_BAND, C.grBand, 2),
    ln([[0, CO2_PREINDUSTRIAL], [15, CO2_PREINDUSTRIAL]], 7, 8, '#b3b3b3', 1.6, false, 3),
    ln(CO2_ICE, 7, 8, C.purple, 2, false, 4),
    errBars(CO2_GREEN_TRI, C.tri, 3, 5),
    errBars(CO2_BLUE_FILLED, C.err, 3, 5),
    errBars(CO2_BLUE_OPEN, C.err, 3, 5),
    pts(xy(CO2_BLUE_FILLED), 7, 8, C.sq, 8, 'rect', 6),
    pts(xy(CO2_BLUE_OPEN), 7, 8, '#fff', 8, 'rect', 6, {itemStyle: {color: '#fff', borderColor: C.sq, borderWidth: 1.3}}),
    pts(xy(CO2_GREEN_TRI), 7, 8, '#fff', 8, 'triangle', 6, {itemStyle: {color: '#fff', borderColor: C.tri, borderWidth: 1.3}}),
    errBars(CO2_NAVY, C.navy, 3.5, 7),
    pts(xy(CO2_NAVY), 7, 8, C.navy, [8, 10], 'diamond', 8)
  ],
  graphic: []
};

const T = (x, y, text, fill, size, extra) => Object.assign({type: 'text', x: x, y: y, silent: true,
  style: {text: text, fill: fill, font: (size || 13.5) + 'px ' + FONT, align: 'left', verticalAlign: 'middle', lineHeight: 18}}, extra || {});
const Bold = (x, y, t) => ({type: 'text', x: x, y: y, silent: true, style: {text: t, fill: INK, font: 'bold 16px ' + FONT, align: 'center', verticalAlign: 'middle'}});
const richBase = {sup: {fontSize: 9, fontFamily: FONT, verticalAlign: 'top', fill: INK, lineHeight: 16},
  sub: {fontSize: 10, fontFamily: FONT, verticalAlign: 'bottom', fill: INK, lineHeight: 16},
  it: {fontSize: 14, fontFamily: FONT, fontStyle: 'italic', fill: INK, lineHeight: 16}};
const Rot = (x, y, text, fill) => ({type: 'text', x: x, y: y, rotation: Math.PI / 2, silent: true,
  style: {text: text, fill: fill || INK, fontSize: 14, fontFamily: FONT, align: 'center', verticalAlign: 'middle', lineHeight: 17, rich: richBase}});

option.graphic = [
  Bold(109, 67, 'a'), Bold(110, 226, 'b'), Bold(110, 383, 'c'), Bold(110, 555, 'd'), Bold(109, 742, 'e'), Bold(107, 938, 'f'),
  T(144, 202, 'West Atlantic (ODP 926)', C.grayTxt),
  T(400, 263, 'West Pacific', C.orB), T(400, 281, '(ODP 806)', C.orB),
  T(433, 329, 'West Pacific', C.orC), T(433, 347, '(ODP 806)', C.orC),
  T(271, 447, 'Tropical east Pacific (ODP 1241)', C.green),
  T(120, 536, 'Northwest Pacific (ODP 1208)', C.purpleTxt),
  T(103, 700, 'Subtropical east Pacific', C.magenta), T(103, 719, '(ODP 1010)', C.magenta),
  T(410, 770, 'Northeast Pacific', C.blue), T(410, 788, '(ODP 1021)', C.blue),
  Rot(697, 134, 'Benthic \u03b4{sup|18}O (\u2030)'),
  Rot(30, 258, 'Bottom-water\ntemperature (\u00b0C)'),
  Rot(28, 425, 'Radiolarian\nspecies richness', C.green),
  Rot(701, 435, '\u0394\u03b4{sup|18}O{sub|subsurface-surface} (\u2030)'),
  Rot(40, 590, 'SST (\u00b0C)'),
  Rot(700, 757, 'SST (\u00b0C)'),
  Rot(28, 1073, '{it|p}{sub|CO\u2082} (p.p.m.v.)')
];

const chart = echarts.init(document.getElementById('c'), null, {renderer: 'canvas', width: 708, height: 1258});
chart.setOption(option);
</script></body></html>
